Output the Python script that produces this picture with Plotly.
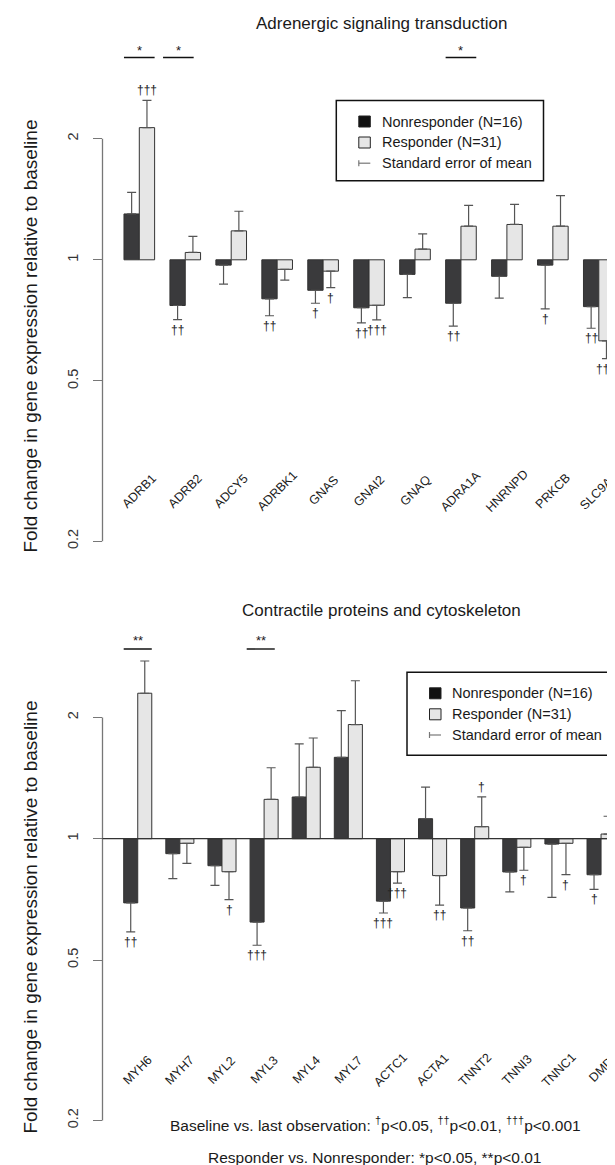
import math
import plotly.graph_objects as go

# ---------------- data ----------------
genes_top = ["ADRB1", "ADRB2", "ADCY5", "ADRBK1", "GNAS", "GNAI2", "GNAQ",
             "ADRA1A", "HNRNPD", "PRKCB", "SLC9A1"]
nonresp_top = [1.30, 0.77, 0.97, 0.80, 0.84, 0.76, 0.92, 0.78, 0.91, 0.97, 0.765]
nonresp_top_sem = [0.17, 0.06, 0.10, 0.074, 0.06, 0.063, 0.115, 0.096, 0.107, 0.215, 0.089]
resp_top = [2.13, 1.043, 1.18, 0.947, 0.937, 0.771, 1.063, 1.212, 1.224, 1.212, 0.629]
resp_top_sem = [0.36, 0.10, 0.14, 0.057, 0.084, 0.062, 0.097, 0.153, 0.149, 0.231, 0.061]
dag_nonresp_top = ["", "††", "", "††", "†", "††", "", "††", "", "†", "††"]
dag_resp_top = ["†††", "", "", "", "†", "†††", "", "", "", "", "†††"]
stars_top = [("ADRB1", "*"), ("ADRB2", "*"), ("ADRA1A", "*")]

genes_bot = ["MYH6", "MYH7", "MYL2", "MYL3", "MYL4", "MYL7", "ACTC1", "ACTA1",
             "TNNT2", "TNNI3", "TNNC1", "DMD"]
nonresp_bot = [0.693, 0.918, 0.857, 0.621, 1.269, 1.592, 0.70, 1.121, 0.673, 0.827, 0.97, 0.814]
nonresp_bot_sem = [0.106, 0.122, 0.091, 0.077, 0.451, 0.486, 0.046, 0.222, 0.082, 0.089, 0.255, 0.065]
resp_bot = [2.296, 0.974, 0.828, 1.252, 1.504, 1.92, 0.828, 0.81, 1.071, 0.952, 0.974, 1.027]
resp_bot_sem = [0.464, 0.105, 0.122, 0.248, 0.274, 0.546, 0.052, 0.126, 0.199, 0.117, 0.16, 0.11]
dag_nonresp_bot = ["††", "", "", "†††", "", "", "†††", "", "††", "", "", "†"]
dag_resp_bot = ["", "", "†", "", "", "", "†††", "††", "†", "†", "†", ""]
stars_bot = [("MYH6", "**"), ("MYL3", "**")]

y_ticks = [0.2, 0.5, 1, 2]
legend_labels = ["Nonresponder (N=16)", "Responder (N=31)", "Standard error of mean"]
titles = ["Adrenergic signaling transduction", "Contractile proteins and cytoskeleton"]
y_title = "Fold change in gene expression relative to baseline"
foot1 = ("Baseline vs. last observation: <sup>†</sup>p&lt;0.05, "
         "<sup>††</sup>p&lt;0.01, <sup>†††</sup>p&lt;0.001")
foot2 = "Responder vs. Nonresponder: *p&lt;0.05, **p&lt;0.01"

# ---------------- style ----------------
W, H = 615, 1165
FONT = "Liberation Sans, Arial, sans-serif"
DARK = "#3a3a3c"
LIGHT = "#e6e6e6"
EDGE = "#333333"
ERRC = "#555555"
AXC = "#777777"
TXT = "#1a1a1a"
AX_X = 94.5  # pixel of y axis line


def py(p):
    return 1 - p / H


def px(p):
    return p / W


fig = go.Figure()

panels = [
    dict(genes=genes_top, nr=nonresp_top, nrs=nonresp_top_sem, r=resp_top, rs=resp_top_sem,
         dn=dag_nonresp_top, dr=dag_resp_top, stars=stars_top, xa="x", ya="y",
         c0=131.3, pitch=45.95, one=251.8, ppd=402.5, top=25, bot=545,
         star_y=42, line_y=49.5, star_off={"ADRB2": -0.15},
         leg=(328.3, 535.5, 92.5, 172.7), title_y=15, ylab_y=328, title=titles[0]),
    dict(genes=genes_bot, nr=nonresp_bot, nrs=nonresp_bot_sem, r=resp_bot, rs=resp_bot_sem,
         dn=dag_nonresp_bot, dr=dag_resp_bot, stars=stars_bot, xa="x2", ya="y2",
         c0=129.74, pitch=42.12, one=830.7, ppd=403.0, top=615, bot=1125,
         star_y=632.3, line_y=641, star_off={"MYL3": -0.08},
         leg=(399.0, 605.8, 664.3, 747.3), title_y=602.7, ylab_y=909, title=titles[1]),
]

shapes = []
annotations = []

for k, P in enumerate(panels):
    genes = P["genes"]

    def errs(vals, sems):
        plus = [s if v >= 1 else 0 for v, s in zip(vals, sems)]
        minus = [s if v < 1 else 0 for v, s in zip(vals, sems)]
        return plus, minus

    for name, vals, sems, col in [(legend_labels[0], P["nr"], P["nrs"], DARK),
                                  (legend_labels[1], P["r"], P["rs"], LIGHT)]:
        plus, minus = errs(vals, sems)
        fig.add_trace(go.Bar(
            x=genes, y=[v - 1 for v in vals], base=1, name=name,
            marker=dict(color=col, line=dict(color=EDGE, width=1)),
            error_y=dict(type="data", symmetric=False, array=plus, arrayminus=minus,
                         color=ERRC, thickness=1.2, width=4.5),
            xaxis=P["xa"], yaxis=P["ya"], showlegend=False, hoverinfo="skip",
        ))

    # daggers
    for vals, sems, dags, off in [(P["nr"], P["nrs"], P["dn"], -1 / 6),
                                  (P["r"], P["rs"], P["dr"], 1 / 6)]:
        for i, (v, s, d) in enumerate(zip(vals, sems, dags)):
            if not d:
                continue
            end = v + s if v >= 1 else v - s
            annotations.append(dict(
                x=i + off, y=math.log10(end), xref=P["xa"], yref=P["ya"],
                text=d, showarrow=False, xanchor="center", yanchor="middle",
                yshift=10 if v >= 1 else -10,
                font=dict(family=FONT, size=12, color="#222")))

    # gene labels
    for i, g in enumerate(genes):
        annotations.append(dict(
            x=i, y=math.log10(0.267), xref=P["xa"], yref=P["ya"], text=g,
            showarrow=False, textangle=-45, xanchor="center", yanchor="middle",
            font=dict(family=FONT, size=12.5, color=TXT)))

    # significance bars
    for g, st in P["stars"]:
        i = genes.index(g) + P["star_off"].get(g, 0)
        shapes.append(dict(type="line", xref=P["xa"], yref="paper",
                           x0=i - 1 / 3, x1=i + 1 / 3, y0=py(P["line_y"]), y1=py(P["line_y"]),
                           line=dict(color="#111", width=1.4)))
        annotations.append(dict(x=i, y=py(P["star_y"]), xref=P["xa"], yref="paper",
                                text=st, showarrow=False, xanchor="center", yanchor="middle",
                                font=dict(family=FONT, size=13, color=TXT)))

    # y axis line (0.2 to 2)
    shapes.append(dict(type="line", xref="paper", yref=P["ya"], x0=px(AX_X), x1=px(AX_X),
                       y0=y_ticks[0], y1=y_ticks[-1], line=dict(color=AXC, width=1.3)))

    # panel title
    annotations.append(dict(x=px(373.5), y=py(P["title_y"]), xref="paper", yref="paper",
                            text=P["title"], showarrow=False, xanchor="center", yanchor="middle",
                            font=dict(family=FONT, size=17, color=TXT)))
    # y label
    annotations.append(dict(x=px(21.6), y=py(P["ylab_y"]), xref="paper", yref="paper",
                            text=y_title, showarrow=False, textangle=-90,
                            xanchor="center", yanchor="middle",
                            font=dict(family=FONT, size=19, color=TXT)))

    # legend box
    lx0, lx1, ly0, ly1 = P["leg"]
    shapes.append(dict(type="rect", xref="paper", yref="paper", x0=px(lx0), x1=px(lx1),
                       y0=py(ly1), y1=py(ly0), line=dict(color="#111", width=1.5),
                       fillcolor="white", layer="above"))
    rows = [ly0 + 21, ly0 + 42, ly0 + 62.7]
    sq0, sq1 = lx0 + 22.5, lx0 + 34.0
    for c, yy in zip(["#111111", LIGHT], rows[:2]):
        shapes.append(dict(type="rect", xref="paper", yref="paper", x0=px(sq0), x1=px(sq1),
                           y0=py(yy + 5.5), y1=py(yy - 5.5), fillcolor=c,
                           line=dict(color="#222", width=1), layer="above"))
    yy = rows[2]
    shapes.append(dict(type="line", xref="paper", yref="paper", x0=px(sq0), x1=px(sq1),
                       y0=py(yy), y1=py(yy), line=dict(color=AXC, width=1.2), layer="above"))
    shapes.append(dict(type="line", xref="paper", yref="paper", x0=px(sq0), x1=px(sq0),
                       y0=py(yy - 3), y1=py(yy + 3), line=dict(color=AXC, width=1.2), layer="above"))
    for lab, yy in zip(legend_labels, rows):
        annotations.append(dict(x=px(lx0 + 43.4), y=py(yy), xref="paper", yref="paper",
                                text=lab, showarrow=False, xanchor="left", yanchor="middle",
                                font=dict(family=FONT, size=14.5, color=TXT)))

# baseline at 1 in the bottom panel
shapes.append(dict(type="line", xref="paper", yref="y2", x0=px(AX_X), x1=1, y0=1, y1=1,
                   line=dict(color="#333", width=1.3)))

# footnotes
annotations.append(dict(x=px(367.5), y=py(1116), xref="paper", yref="paper", text=foot1,
                        showarrow=False, xanchor="center", yanchor="middle",
                        font=dict(family=FONT, size=15.5, color=TXT)))
annotations.append(dict(x=px(366.5), y=py(1149), xref="paper", yref="paper", text=foot2,
                        showarrow=False, xanchor="center", yanchor="middle",
                        font=dict(family=FONT, size=15.5, color=TXT)))


def yrange(P):
    return [(P["one"] - P["bot"]) / P["ppd"], (P["one"] - P["top"]) / P["ppd"]]


def xrange(P):
    return [(AX_X - P["c0"]) / P["pitch"], (W - P["c0"]) / P["pitch"]]


common_x = dict(type="category", showticklabels=False, showgrid=False, zeroline=False,
                showline=False, ticks="", fixedrange=True)
common_y = dict(type="log", tickvals=y_ticks, ticktext=[str(t) for t in y_ticks],
                ticks="outside", ticklen=9, tickwidth=1.3, tickcolor=AXC, tickangle=-90,
                tickfont=dict(family=FONT, size=14.5, color="#333"), showgrid=False,
                zeroline=False, showline=False, ticklabelstandoff=9)

fig.update_layout(
    width=W, height=H, margin=dict(l=0, r=0, t=0, b=0),
    paper_bgcolor="white", plot_bgcolor="white",
    barmode="group", bargap=1 / 3, bargroupgap=0, showlegend=False,
    xaxis=dict(domain=[px(AX_X), 1], range=xrange(panels[0]), anchor="y", **common_x),
    yaxis=dict(domain=[py(panels[0]["bot"]), py(panels[0]["top"])], range=yrange(panels[0]),
               anchor="x", **common_y),
    xaxis2=dict(domain=[px(AX_X), 1], range=xrange(panels[1]), anchor="y2", **common_x),
    yaxis2=dict(domain=[py(panels[1]["bot"]), py(panels[1]["top"])], range=yrange(panels[1]),
                anchor="x2", **common_y),
    shapes=shapes, annotations=annotations,
)

fig.write_html("out.html")
